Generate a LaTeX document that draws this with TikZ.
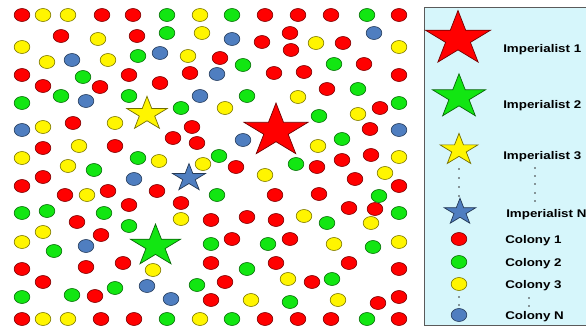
\documentclass[tikz,border=0pt]{standalone}
\usepackage{fontspec}
\setsansfont{Liberation Sans}
\usetikzlibrary{shapes.geometric}
\definecolor{cRed}{HTML}{FF0000}
\definecolor{cGreen}{HTML}{12E612}
\definecolor{cYellow}{HTML}{FFF500}
\definecolor{cBlue}{HTML}{4F7EC0}
\definecolor{cLegend}{HTML}{D6F6FB}
\definecolor{cFrame}{HTML}{5A5A5A}

\begin{document}
\begin{tikzpicture}[
    x=0.3mm, y=-0.3mm,
    col/.style={draw=#1!50!black, line width=0.55pt, fill=#1},
    imp/.style={star, star points=5, star point ratio=2.618, inner sep=0pt,
                draw=#1!45!black, line width=0.6pt, fill=#1, xscale=1.2},
    leg/.style={font=\sffamily\bfseries\fontsize{9.5}{11}\selectfont,
                anchor=west, inner sep=0pt, xscale=1.2},
    dot/.style={fill=black!80, inner sep=0pt, minimum size=1.3pt, circle},
]
\useasboundingbox (0,0) rectangle (586,329);

% ===========================================================================
% Colonias repartidas por el espacio
% ===========================================================================
\foreach \x/\y in {22/15, 102/15, 133/15, 265/15, 298/15, 331/15, 399/15,
    61/36, 137/36, 262/42, 290/33, 291/50, 343/43,
    22/75, 129/75, 190/73, 43/86, 100/87, 160/83, 220/58, 274/73, 304/72,
    364/64, 399/75, 73/123, 192/127, 327/89, 380/108,
    43/148, 115/146, 173/138, 197/143, 370/129,
    236/167, 317/167, 342/160, 371/155,
    43/177, 22/186, 65/195, 108/191, 157/191, 181/203, 129/205, 355/179, 399/186,
    77/222, 101/235, 275/195, 319/194,
    211/220, 247/217, 276/220, 349/208, 375/209, 232/239, 290/239,
    22/269, 86/267, 123/263, 211/263, 276/263, 349/263, 399/269,
    43/282, 225/282, 312/282, 95/296, 211/300, 378/303, 399/297,
    22/319, 101/319, 134/319, 265/319, 298/319, 331/319, 399/319}
    \draw[col=cRed] (\x,\y) ellipse [x radius=7.8, y radius=6.5];

\foreach \x/\y in {167/15, 232/15, 367/15, 167/33, 138/56, 243/65, 334/64,
    83/77, 22/103, 61/96, 129/96, 181/108, 247/96, 358/89, 399/103, 319/116,
    342/139, 219/156, 138/158, 296/164, 94/170, 217/195, 379/196,
    22/213, 47/211, 104/213, 129/226, 327/223, 399/213,
    54/251, 211/244, 268/244, 373/247, 247/269, 115/288, 197/285, 332/279,
    22/297, 72/295, 290/302, 167/319, 232/319, 367/319}
    \draw[col=cGreen] (\x,\y) ellipse [x radius=7.8, y radius=6.5];

\foreach \x/\y in {43/15, 68/15, 200/15, 98/39, 202/33, 22/47, 47/62, 108/60,
    188/56, 316/43, 399/47, 225/108, 298/97, 358/114, 43/127, 115/123,
    79/146, 318/146, 22/158, 68/166, 159/161, 203/164, 399/157,
    87/195, 265/175, 385/173, 181/219, 304/216, 371/223,
    43/232, 22/242, 334/244, 399/242, 153/270, 288/279, 251/300, 338/300,
    43/319, 68/319, 200/319}
    \draw[col=cYellow] (\x,\y) ellipse [x radius=7.8, y radius=6.5];

\foreach \x/\y in {72/60, 160/53, 232/39, 374/33, 86/101, 200/96, 217/74,
    22/130, 243/140, 399/130, 134/179, 86/246, 147/286, 171/299}
    \draw[col=cBlue] (\x,\y) ellipse [x radius=7.8, y radius=6.5];

% ----- Imperialistas -----
\node[imp=cRed, minimum size=28*0.6mm] (imp1) at (276,131) {};
\node[imp=cYellow, minimum size=17.7*0.6mm] (imp3) at (147,114) {};
\node[imp=cBlue, minimum size=14.4*0.6mm] (impN) at (189,178) {};
\node[imp=cGreen, minimum size=22*0.6mm] (imp2) at (155.5,246) {};

% ===========================================================================
% Leyenda
% ===========================================================================
\draw[cFrame, line width=0.8pt, fill=cLegend] (424,7) rectangle (600,325);

\node[imp=cRed, minimum size=28.5*0.6mm] (lImp1) at (458,39) {};
\node[imp=cGreen, minimum size=23.2*0.6mm] (lImp2) at (459,97) {};
\node[imp=cYellow, minimum size=16.6*0.6mm] (lImp3) at (459,150) {};
\node[imp=cBlue, minimum size=13.8*0.6mm] (lImpN) at (460,212) {};

\node[leg] (tImp1) at (503,50) {Imperialist 1};
\node[leg] (tImp2) at (503,106) {Imperialist 2};
\node[leg] (tImp3) at (503,157) {Imperialist 3};
\node[leg] (tImpN) at (506,215) {Imperialist N};

\foreach \y in {169, 178, 187, 196} \node[dot] at (459,\y) {};
\foreach \y in {168, 176, 184, 193, 201} \node[dot] at (535,\y) {};

\draw[col=cRed] (459,239) ellipse [x radius=7.8, y radius=6.5];
\draw[col=cGreen] (459,262) ellipse [x radius=7.8, y radius=6.5];
\draw[col=cYellow] (459,284) ellipse [x radius=7.8, y radius=6.5];
\draw[col=cBlue] (459,315) ellipse [x radius=7.8, y radius=6.5];

\node[leg] (tCol1) at (505,241) {Colony 1};
\node[leg] (tCol2) at (505,264) {Colony 2};
\node[leg] (tCol3) at (505,286) {Colony 3};
\node[leg] (tColN) at (505,317) {Colony N};

\foreach \y in {297, 305} \node[dot] at (459,\y) {};
\foreach \y in {298, 306} \node[dot] at (529,\y) {};

\end{tikzpicture}
\end{document}
